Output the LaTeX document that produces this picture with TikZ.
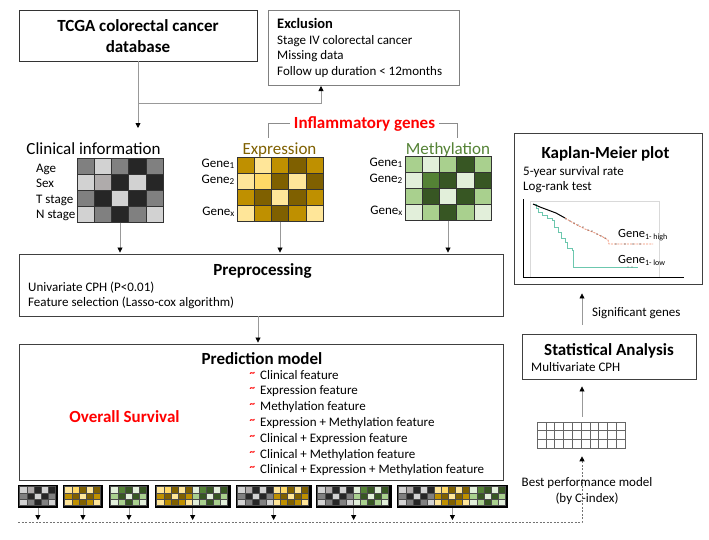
\documentclass[tikz,border=0pt]{standalone}
\usepackage{fontspec}
\setmainfont{Carlito}
\usetikzlibrary{arrows.meta}
\definecolor{gA}{RGB}{128,128,128}
\definecolor{gL}{RGB}{210,210,210}
\definecolor{gD}{RGB}{38,38,38}
\definecolor{gM}{RGB}{175,171,171}
\definecolor{eC}{HTML}{BF9000}
\definecolor{eL}{HTML}{FFE699}
\definecolor{eY}{HTML}{FFD966}
\definecolor{eD}{HTML}{7F6000}
\definecolor{mA}{HTML}{A9D08E}
\definecolor{mE}{HTML}{E2EFDA}
\definecolor{mM}{HTML}{548235}
\definecolor{mD}{HTML}{375623}
\definecolor{expT}{HTML}{7F6000}
\definecolor{metT}{HTML}{548235}
\definecolor{kmTeal}{HTML}{6CC7AE}
\definecolor{kmOr}{HTML}{F08A6A}
\newcommand{\cellgrid}[6]{%
  \foreach \rowlist [count=\ri from 0] in {#5} {
    \foreach \cc [count=\ci from 0] in \rowlist {
      \filldraw[fill=\cc, draw=#6, line width=0.6pt] ({#1+\ci*#3},{#2+\ri*#4}) rectangle ++(#3,#4);
    }
  }
}
\newcommand{\mystrip}[4]{%
  \node[fill=black, draw=black, line width=0.8pt, inner sep=0, anchor=north west,
        minimum width={#3*7.1+3.5}, minimum height=22] (#1) at (#2,485) {};
  \cellgrid{#2+1.75}{486.75}{7.1}{6.17}{#4}{black!70}
}
\begin{document}
\begin{tikzpicture}[x=1pt,y=-1pt,
  box/.style={draw=black!75, line width=0.9pt, inner sep=0},
  txt/.style={inner sep=0, anchor=base west, font=\fontsize{13}{15}\selectfont},
  ctxt/.style={inner sep=0, anchor=base, font=\fontsize{13}{15}\selectfont},
  rtxt/.style={inner sep=0, anchor=base east, font=\fontsize{13}{15}\selectfont},
  ttl/.style={inner sep=0, anchor=base, font=\fontsize{17}{20}\selectfont\bfseries},
  big/.style={inner sep=0, anchor=base, font=\fontsize{17}{20}\selectfont},
  arr/.style={draw=black!40, line width=0.8pt, -{Triangle[length=5pt,width=5pt,color=black]}},
  gframe/.style={draw=black!80, line width=1pt, inner sep=0, minimum width=86, minimum height=64}
]
\useasboundingbox (0,0) rectangle (709,539);

% ---------- TCGA ----------
\node[box, draw=black!80, minimum width=238, minimum height=51] (tcga) at (138,35.5) {};
\node[ttl] (tcga1) at (138,31) {TCGA colorectal cancer};
\node[ttl] (tcga2) at (138,52) {database};

% ---------- Exclusion ----------
\node[box, draw=black!50, minimum width=191, minimum height=75] (excl) at (363.5,47.5) {};
\node[txt, font=\fontsize{14.5}{16}\selectfont\bfseries] (ex0) at (277,28) {Exclusion};
\node[txt] (ex1) at (277,44) {Stage IV colorectal cancer};
\node[txt] (ex2) at (277,59.5) {Missing data};
\node[txt] (ex3) at (277,75) {Follow up duration < 12months};

\coordinate (tcgaend) at (138,128);
\coordinate (br) at (138,103);
\coordinate (exin) at (321,86);
\draw[arr] (tcga.south) -- (tcgaend);
\draw[arr] (br) -| (exin);

% ---------- Clinical ----------
\node[big] (clin) at (93.5,154) {Clinical information};
\node[txt] (age) at (36,172) {Age};
\node[txt] (sex) at (36,187) {Sex};
\node[txt] (tst) at (36,203) {T stage};
\node[txt] (nst) at (36,218) {N stage};
\cellgrid{77}{158}{17.2}{16}{{gA,gL,gA,gD,gA},{gL,gM,gD,gL,gD},{gA,gD,gL,gD,gA},{gL,gA,gD,gA,gL}}{black!80}
\node[gframe] (clingrid) at (120,190) {};

% ---------- Expression ----------
\node[big, text=expT] (expt) at (279.5,154) {Expression};
\node[rtxt] (eg1) at (235,167) {Gene\textsubscript{1}};
\node[rtxt] (eg2) at (235,183) {Gene\textsubscript{2}};
\node[rtxt] (egx) at (235,215) {Gene\textsubscript{x}};
\cellgrid{237}{157}{17.2}{16}{{eC,eL,eC,eD,eC},{eL,eY,eD,eL,eD},{eC,eD,eL,eD,eC},{eL,eC,eD,eC,eL}}{black!80}
\node[gframe] (expgrid) at (280,189) {};

% ---------- Methylation ----------
\node[big, text=metT] (mett) at (448,154) {Methylation};
\node[rtxt] (mg1) at (403,166) {Gene\textsubscript{1}};
\node[rtxt] (mg2) at (403,182) {Gene\textsubscript{2}};
\node[rtxt] (mgx) at (403,214) {Gene\textsubscript{x}};
\cellgrid{405}{156}{17.2}{16}{{mA,mE,mA,mD,mA},{mE,mM,mD,mE,mD},{mA,mD,mE,mD,mA},{mE,mA,mD,mA,mE}}{black!80}
\node[gframe] (metgrid) at (448,188) {};

% ---------- Inflammatory genes ----------
\node[ttl, text=red] (infl) at (364.5,128) {Inflammatory genes};
\coordinate (brl) at (268,138);
\coordinate (brr) at (457,138);
\draw[black!45, line width=0.8pt] ([xshift=-4pt]infl.west) -| (brl);
\draw[black!45, line width=0.8pt] ([xshift=4pt]infl.east) -| (brr);

% ---------- Preprocessing ----------
\node[box, minimum width=484, minimum height=62] (prep) at (261,285) {};
\node[ttl] (prept) at (262.5,275) {Preprocessing};
\node[txt] (pr1) at (28,291) {Univariate CPH (P<0.01)};
\node[txt] (pr2) at (28,306) {Feature selection (Lasso-cox algorithm)};

\draw[arr, shorten >=1pt] (clingrid.south) -- (clingrid.south |- prep.north);
\draw[arr, shorten >=1pt] (expgrid.south) -- (expgrid.south |- prep.north);
\draw[arr, shorten >=1pt] (metgrid.south) -- (metgrid.south |- prep.north);

% ---------- Prediction model ----------
\node[box, minimum width=484, minimum height=136] (pred) at (261,412) {};
\draw[arr, shorten >=1pt] ([xshift=-3pt]prep.south) -- ([xshift=-3pt]pred.north);
\node[ttl] (predt) at (262,364) {Prediction model};
\node[ttl, text=red] (os) at (124.5,422) {Overall Survival};
\foreach \t [count=\i from 0] in {Clinical feature, Expression feature, Methylation feature,
  Expression + Methylation feature, Clinical + Expression feature,
  Clinical + Methylation feature, Clinical + Expression + Methylation feature} {
  \node[txt] (it\i) at (260,{379+\i*15.8}) {\t};
  \node[txt, text=red, font=\fontsize{11}{11}\selectfont\bfseries] (tl\i) at (249.5,{376+\i*15.8}) {\textasciitilde};
}

% ---------- Strips ----------
\mystrip{s1}{18}{5}{{gL,gM,gD,gL,gD},{gA,gD,gL,gD,gA},{gL,gA,gD,gA,gL}}
\mystrip{s2}{63}{5}{{eL,eY,eD,eL,eD},{eC,eD,eL,eD,eC},{eL,eC,eD,eC,eL}}
\mystrip{s3}{109}{5}{{mE,mM,mD,mE,mD},{mA,mD,mE,mD,mA},{mE,mA,mD,mA,mE}}
\mystrip{s4}{155}{10}{{eL,eY,eD,eL,eD,mE,mM,mD,mE,mD},{eC,eD,eL,eD,eC,mA,mD,mE,mD,mA},{eL,eC,eD,eC,eL,mE,mA,mD,mA,mE}}
\mystrip{s5}{236}{10}{{gL,gM,gD,gL,gD,eL,eY,eD,eL,eD},{gA,gD,gL,gD,gA,eC,eD,eL,eD,eC},{gL,gA,gD,gA,gL,eL,eC,eD,eC,eL}}
\mystrip{s6}{316}{10}{{gL,gM,gD,gL,gD,mE,mM,mD,mE,mD},{gA,gD,gL,gD,gA,mA,mD,mE,mD,mA},{gL,gA,gD,gA,gL,mE,mA,mD,mA,mE}}
\mystrip{s7}{397}{15}{{gL,gM,gD,gL,gD,eL,eY,eD,eL,eD,mE,mM,mD,mE,mD},{gA,gD,gL,gD,gA,eC,eD,eL,eD,eC,mA,mD,mE,mD,mA},{gL,gA,gD,gA,gL,eL,eC,eD,eC,eL,mE,mA,mD,mA,mE}}

\coordinate (dl) at (18,522);
\foreach \s in {s1,s2,s3,s4,s5,s6,s7} {
  \draw[arr] (\s.south) -- (\s.south |- 0,520);
}

% ---------- Best performance grid ----------
\node[draw=black!60, line width=0.6pt, inner sep=0, minimum width=88, minimum height=26] (bpgrid) at (581,435) {};
\foreach \k in {1,...,9} { \draw[black!60, line width=0.6pt] ({537+\k*8.8},422) -- ({537+\k*8.8},448); }
\foreach \k in {1,2} { \draw[black!60, line width=0.6pt] (537,{422+\k*8.67}) -- (625,{422+\k*8.67}); }
\draw[black!55, line width=0.7pt, dash pattern=on 2pt off 1.5pt, -{Triangle[length=5pt,width=5pt,color=black]}, shorten >=8pt]
  (dl) -| ([xshift=1pt]bpgrid.south);
\node[ctxt] (bp1) at (587,486) {Best performance model};
\node[ctxt] (bp2) at (587,502) {(by C-index)};

% ---------- Statistical Analysis ----------
\node[box, minimum width=174, minimum height=45] (stat) at (609,356.5) {};
\node[ttl] (statt) at (609,355) {Statistical Analysis};
\node[txt] (st1) at (531,371) {Multivariate CPH};
\draw[arr, shorten <=5pt, shorten >=7pt] ([xshift=1pt]bpgrid.north) -- ([xshift=1pt]bpgrid.north |- stat.south);

% ---------- Kaplan-Meier ----------
\node[box, minimum width=188, minimum height=151] (km) at (608,208.5) {};
\node[ttl] (kmt) at (605.5,158) {Kaplan-Meier plot};
\node[txt] (km1) at (523,175) {5-year survival rate};
\node[txt] (km2) at (523,190) {Log-rank test};
\draw[arr, shorten <=9pt, shorten >=9pt] ([xshift=1pt]bpgrid.north |- stat.north) -- ([xshift=1pt]bpgrid.north |- km.south);
\node[txt] (sig) at (592,316) {Significant genes};

\draw[black!15, line width=0.5pt] (530,201) rectangle (659,277);
\draw[black, line width=0.8pt] (523,199) -- (523,277) -- (684,277);
% low curve
\draw[kmTeal, line width=1pt] (533,204) -| (536,208) -| (538,212) -| (542,215) -| (547,218) -| (552,220) -| (554,227) -| (558,232) -| (561,238) -| (565,242) -| (567,248) -| (572,250) -| (573,267) -- (638,267);
\fill[black!60] (628,267) circle (0.7) (632,267) circle (0.7);
% high curve
\draw[black, line width=1pt] (533,204) -- (540,207) -- (548,210) -- (556,213) -- (565,218);
\draw[kmOr, line width=0.8pt, dash pattern=on 2pt off 1.2pt] (565,218) -- (575,224) -- (585,229) -- (595,233) -- (603,237) -- (608,240) -- (609,244) -- (653,244);
\foreach \px/\py in {566/219,570/221,574/223,578/225,583/227,588/230,592/231,597/234,601/236,605/238,616/244,625/244,633/244,640/244} {
  \fill[black!80] (\px,\py) circle (0.6);
}
\node[txt, font=\fontsize{12.5}{14}\selectfont] (ghigh) at (618,237) {Gene{\fontsize{8}{9}\selectfont\raisebox{-2.5pt}{1- high}}};
\node[txt, font=\fontsize{12.5}{14}\selectfont] (glow) at (618,263) {Gene{\fontsize{8}{9}\selectfont\raisebox{-2.5pt}{1- low}}};
\end{tikzpicture}
\end{document}
